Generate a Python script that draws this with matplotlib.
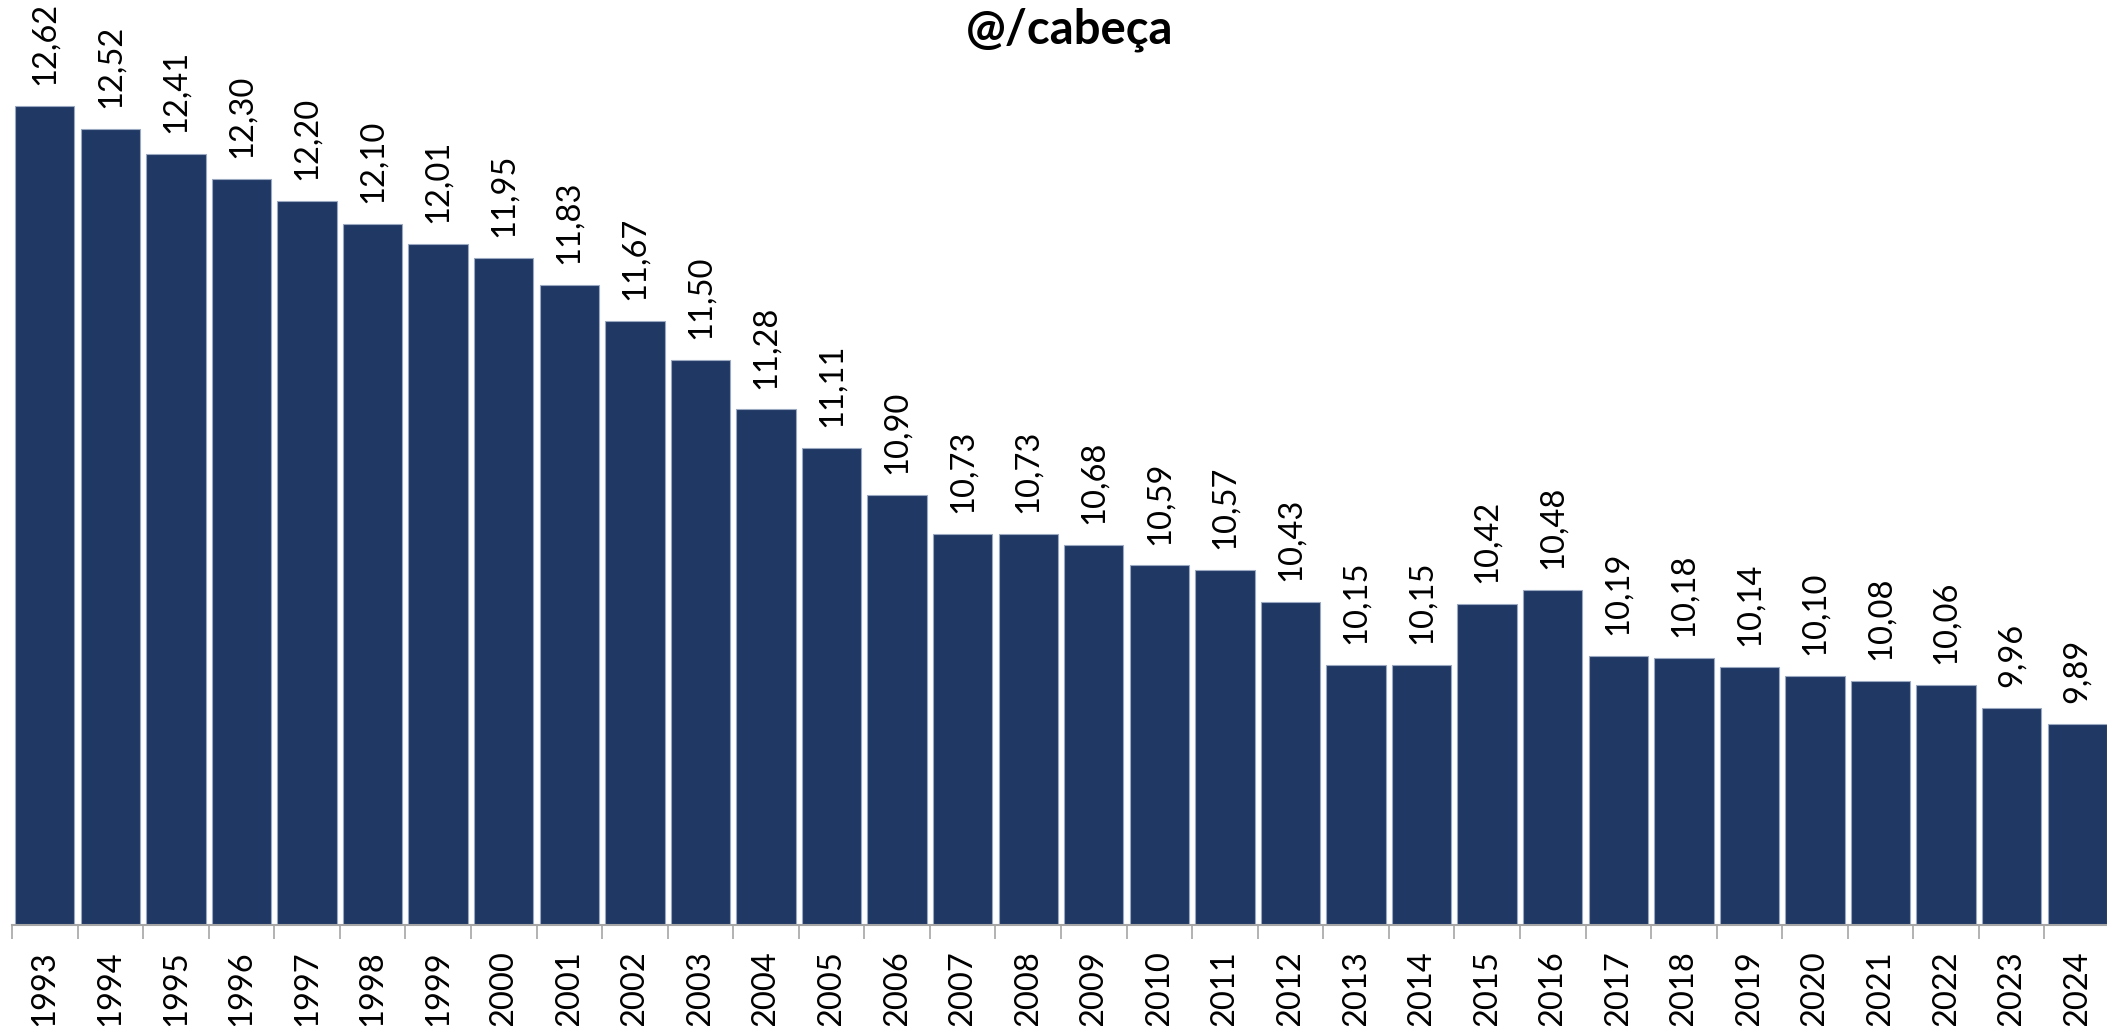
import matplotlib
matplotlib.use("Agg")
import matplotlib.pyplot as plt
import numpy as np

# dados
anos = list(range(1993, 2025))
valores = [12.62, 12.52, 12.41, 12.30, 12.20, 12.10, 12.01, 11.95, 11.83, 11.67,
           11.50, 11.28, 11.11, 10.90, 10.73, 10.73, 10.68, 10.59, 10.57, 10.43,
           10.15, 10.15, 10.42, 10.48, 10.19, 10.18, 10.14, 10.10, 10.08, 10.06,
           9.96, 9.89]
titulo = "@/cabeça"

plt.rcParams['font.family'] = ['Lato', 'DejaVu Sans']

fig = plt.figure(figsize=(21.07, 10.26), dpi=100)
ax = fig.add_axes([12 / 2107, 101 / 1026, 2098 / 2107, 925 / 1026])

x = np.arange(len(anos))
ax.bar(x, valores, width=0.905, color='#203864', edgecolor='#9aa8c0', linewidth=0.8)

for xi, v in zip(x, valores):
    ax.annotate(f"{v:.2f}".replace('.', ','), (xi, v), xytext=(0, 15),
                textcoords='offset points', rotation=90, ha='center', va='bottom',
                fontsize=23.5, color='black')

ax.set_xlim(-0.5, len(anos) - 0.5)
ax.set_ylim(9.0, 13.09)

ax.set_xticks(x)
ax.set_xticklabels([str(a) for a in anos], rotation=90, fontsize=23.5)
ax.tick_params(axis='x', which='major', length=0, pad=18)
ax.set_xticks(np.arange(-0.5, len(anos)), minor=True)
ax.tick_params(axis='x', which='minor', length=10, width=1.2, color='#a6a6a6')
ax.set_yticks([])

for s in ['top', 'right', 'left']:
    ax.spines[s].set_visible(False)
ax.spines['bottom'].set_color('#a6a6a6')
ax.spines['bottom'].set_linewidth(1.5)

fig.text(1070 / 2107, 1 - 43 / 1026, titulo, ha='center', va='baseline',
         fontsize=34, fontweight='bold')

fig.savefig('out.png', dpi=100)
